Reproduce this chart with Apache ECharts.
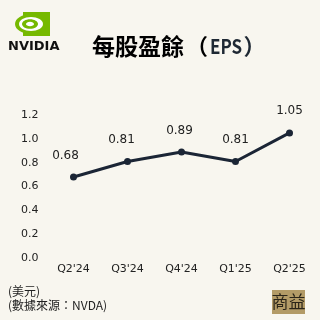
<!DOCTYPE html>
<html><head><meta charset="utf-8">
<script src="https://cdn.jsdelivr.net/npm/echarts@6/dist/echarts.min.js"></script>
<style>html,body{margin:0;padding:0;background:#f8f6ef}#c{width:320px;height:320px}</style>
</head><body><div id="c"></div>
<script>
var categories = ["Q2'24", "Q3'24", "Q4'24", "Q1'25", "Q2'25"];
var epsValues = [0.68, 0.81, 0.89, 0.81, 1.05];
var yTicks = { min: 0, max: 1.2, interval: 0.2 };
var titleMain = "每股盈餘";
var titleSub = "EPS";
var unitText = "(美元)";
var sourceText = "(數據來源：NVDA)";
var brandText = "NVIDIA";
var badgeText = "商益";

var labelShiftX = [-8, -6, -2, 0, 0];
var CJK = "'Noto Sans CJK TC','DejaVu Sans',sans-serif";
var LAT = "'DejaVu Sans','Noto Sans CJK TC',sans-serif";
var TITLE_COLOR = '#1e2833';

var chart = echarts.init(document.getElementById('c'), null, {renderer: 'canvas'});
chart.setOption({
  backgroundColor: '#f8f6ef',
  animation: false,
  grid: { left: 46.5, right: 3.5, top: 115, bottom: 62 },
  xAxis: {
    type: 'category', data: categories, boundaryGap: true,
    axisLine: { show: false }, axisTick: { show: false }, splitLine: { show: false },
    axisLabel: { color: '#222', fontSize: 11, fontFamily: LAT, margin: 6 }
  },
  yAxis: {
    type: 'value', min: yTicks.min, max: yTicks.max, interval: yTicks.interval,
    axisLine: { show: false }, axisTick: { show: false }, splitLine: { show: false },
    axisLabel: { color: '#222', fontSize: 11, fontFamily: LAT, margin: 8,
      formatter: function (v) { return v.toFixed(1); } }
  },
  series: [{
    type: 'line',
    data: epsValues.map(function (v, i) {
      return { value: v, label: { offset: [labelShiftX[i], 0] } };
    }),
    lineStyle: { color: '#1b2535', width: 3 },
    itemStyle: { color: '#1b2535' },
    symbol: 'circle', symbolSize: 7,
    label: { show: true, position: 'top', distance: 12, color: '#222', fontSize: 12, fontFamily: LAT,
      formatter: function (p) { return p.value.toFixed(2); } }
  }],
  graphic: [
    { type: 'rect', shape: { x: 23, y: 12, width: 27, height: 24 }, style: { fill: '#76b900' } },
    { type: 'ellipse', shape: { cx: 31, cy: 24, rx: 16, ry: 10 }, style: { fill: '#76b900' } },
    { type: 'ellipse', shape: { cx: 31, cy: 24, rx: 12, ry: 7 }, style: { fill: '#ffffff' } },
    { type: 'ellipse', shape: { cx: 30, cy: 24, rx: 8, ry: 4.8 }, style: { fill: '#76b900' } },
    { type: 'ellipse', shape: { cx: 30, cy: 24, rx: 4, ry: 2.3 }, style: { fill: '#ffffff' } },
    { type: 'text', left: 8, top: 40, style: { text: brandText, fill: '#111', font: "bold 13px 'DejaVu Sans',sans-serif" } },
    { type: 'text', x: 92, y: 46, style: {
        text: '{c|' + titleMain + '}{l|（}',
        textVerticalAlign: 'middle',
        rich: {
          c: { fontSize: 23, fontWeight: 'bold', fontFamily: CJK, color: TITLE_COLOR },
          l: { fontSize: 22, fontWeight: 'bold', fontFamily: CJK, color: TITLE_COLOR, width: 26, align: 'center' }
        }
      } },
    { type: 'text', x: 210, y: 46, scaleX: 0.85, style: { text: titleSub, fill: TITLE_COLOR,
        font: "bold 20px 'Noto Sans CJK TC','Noto Sans',sans-serif", textVerticalAlign: 'middle' } },
    { type: 'text', x: 254.5, y: 46, style: { text: '）', fill: TITLE_COLOR, textAlign: 'center',
        font: "bold 22px " + CJK, textVerticalAlign: 'middle' } },
    { type: 'text', x: 8, y: 291, style: { text: unitText, fill: '#222', font: "12px " + CJK, textVerticalAlign: 'middle' } },
    { type: 'text', x: 8, y: 305, style: { text: sourceText, fill: '#222', font: "12px " + CJK, textVerticalAlign: 'middle' } },
    { type: 'rect', shape: { x: 272, y: 290, width: 33, height: 24 }, style: { fill: '#b39b67' } },
    { type: 'text', x: 288.5, y: 302, style: { text: badgeText, fill: '#2a2418', font: "17px " + CJK, textAlign: 'center', textVerticalAlign: 'middle' } }
  ]
});
</script></body></html>
